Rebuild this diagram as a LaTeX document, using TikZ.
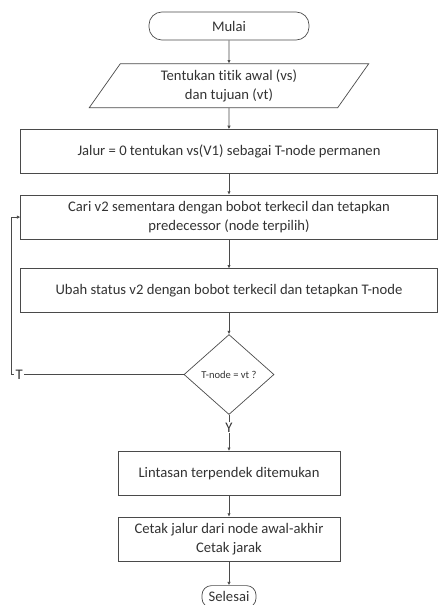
\documentclass[tikz,border=0pt]{standalone}
\usepackage{fontspec}
\setmainfont{Carlito}[Ligatures=NoCommon]
\usetikzlibrary{arrows.meta,positioning,shapes.geometric}
\definecolor{Ink}{HTML}{333333}
\definecolor{Edge}{HTML}{4A4A4A}

\begin{document}
\begin{tikzpicture}[node distance=.66cm,
font=\fontsize{12.5}{16}\selectfont,text=Ink,
box/.style={draw=Edge,line width=.6pt,fill=white,align=center,minimum height=1.32cm,inner sep=2pt},
wide/.style={box,minimum width=12.5cm},
term/.style={draw=Edge,line width=.6pt,rounded corners=11pt,minimum width=4.8cm,minimum height=.84cm},
io/.style={draw=Edge,line width=.6pt,trapezium,trapezium left angle=60,trapezium right angle=120,trapezium stretches,align=center,minimum width=8.4cm,minimum height=1.32cm,inner sep=1pt},
decision/.style={draw=Edge,line width=.6pt,diamond,inner sep=0pt,minimum width=2.7cm,minimum height=2.4cm,font=\fontsize{9}{11}\selectfont},
arrow/.style={-{Latex[length=1mm,width=1mm]},line width=.6pt,draw=Edge}]
\useasboundingbox (-6.87,.78) rectangle (6.27,-17.37);
\node[term](mulai){Mulai};
\node[io,below=.69cm of mulai](masukan){Tentukan titik awal (vs)\\dan tujuan (vt)};
\node[wide,below=.63cm of masukan](jalur){Jalur = 0 tentukan vs(V1) sebagai T-node permanen};
\node[wide,below=.63cm of jalur](cari){Cari v2 sementara dengan bobot terkecil dan tetapkan\\predecessor (node terpilih)};
\node[wide,below=.87cm of cari](ubah){Ubah status v2 dengan bobot terkecil dan tetapkan T-node};
\node[decision,below=.63cm of ubah](cek){T-node = vt ?};
\node[box,minimum width=6.66cm,below=1.08cm of cek](lintasan){Lintasan terpendek ditemukan};
\node[box,minimum width=6.66cm,below=.63cm of lintasan](cetak){Cetak jalur dari node awal-akhir\\Cetak jarak};
\node[term,minimum width=1.62cm,minimum height=.66cm,rounded corners=8pt,inner sep=1pt,below=.72cm of cetak](selesai){Selesai};
\draw[arrow](mulai)--(masukan);\draw[arrow](masukan)--(jalur);\draw[arrow](jalur)--(cari);\draw[arrow](cari)--(ubah);\draw[arrow](ubah)--(cek);
\draw[arrow](cek.west)-|node[pos=.477,fill=white,inner sep=1pt]{T}([xshift=-.27cm]cari.west)--(cari.west);
\draw[arrow](cek)--node[pos=.35,fill=white,inner sep=1pt]{Y}(lintasan);
\draw[arrow](lintasan)--(cetak);\draw[arrow](cetak)--(selesai);
\end{tikzpicture}
\end{document}
